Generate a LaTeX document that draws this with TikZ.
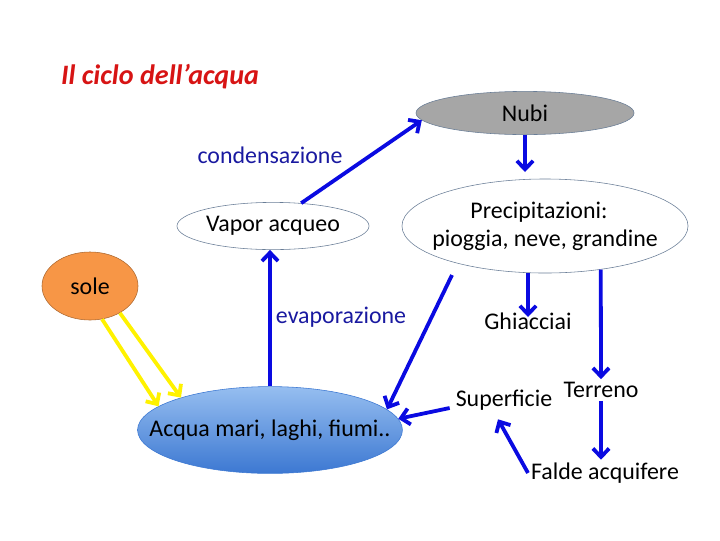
\documentclass[tikz,border=0pt]{standalone}
\usepackage{fontspec}
\setmainfont{Carlito}
\usepackage{xcolor}
\usetikzlibrary{arrows.meta,positioning,shapes.geometric,calc}

\definecolor{flowblue}{RGB}{10,10,225}
\definecolor{labelblue}{RGB}{25,25,160}
\definecolor{titlered}{RGB}{215,20,20}
\definecolor{rimgray}{RGB}{105,125,150}
\definecolor{cloudgray}{RGB}{166,166,166}
\definecolor{sunorange}{RGB}{247,150,70}
\definecolor{seatop}{RGB}{150,190,240}
\definecolor{seabottom}{RGB}{60,120,210}

\begin{document}
\begin{tikzpicture}[
x=0.025cm, y=-0.025cm,
every node/.style={font=\fontsize{17}{20}\selectfont},
blob/.style={ellipse, draw=rimgray, thin, inner sep=-3cm},
word/.style={inner sep=2pt},
flow/.style={-{Straight Barb[length=6pt,width=11.5pt]}, line width=2.7pt, draw=flowblue},
ray/.style={flow, draw=yellow}
]
\useasboundingbox (0,0) rectangle (720,540);

\node[word, text=titlered, font=\fontsize{20}{24}\selectfont\bfseries\itshape] (title) at (160,77) {Il ciclo dell’acqua};

\node[blob, fill=cloudgray, minimum width=5.45cm, minimum height=1.08cm] (nubi) at (525,113) {Nubi};
\node[blob, minimum width=4.8cm, minimum height=1.18cm] (vapor) at (273,226) {Vapor acqueo};
\node[blob, minimum width=7.15cm, minimum height=2.35cm, align=center] (precip) at (545,226) {\hspace*{-0.3cm}Precipitazioni:\\pioggia, neve, grandine};
\node[blob, draw=sunorange!70!black, fill=sunorange, minimum width=2.4cm, minimum height=1.7cm] (sole) at (90,286) {sole};
\node[blob, draw=seabottom, top color=seatop, bottom color=seabottom, minimum width=6.62cm, minimum height=2.17cm] (acqua) at (270,430) {Acqua mari, laghi, fiumi..};

\node[word, text=labelblue] (cond) at (270,155) {condensazione};
\node[word, text=labelblue] (evap) at (341,317) {evaporazione};
\node[word] (ghiac) at (528,321) {Ghiacciai};
\node[word] (terreno) at (601,390) {Terreno};
\node[word] (superf) at (504,400) {Superficie};
\node[word] (falde) at (605,473) {Falde acquifere};

\coordinate (drip) at (452,275);

\draw[flow] (vapor.39) -- (nubi.184);
\draw[flow] (nubi.south) -- (nubi.south |- 0,172);
\draw[flow] (acqua.north) -- (acqua.north |- vapor.south);
\draw[flow] (drip) -- (acqua.10);
\draw[flow] (ghiac |- precip.south) -- ($(ghiac.center)+(0,-4)$);
\draw[flow] (precip.-38) -- (terreno.north);
\draw[flow] ($(superf.west)+(-3,8)$) -- (acqua.5);
\draw[flow] (terreno.south) -- (terreno.south |- falde.north);
\draw[flow] (falde.west) -- ($(superf.south)+(-6,6)$);
\draw[ray] (sole.-70) -- (acqua.168);
\draw[ray] (sole.-42) -- (acqua.160);
\end{tikzpicture}
\end{document}
